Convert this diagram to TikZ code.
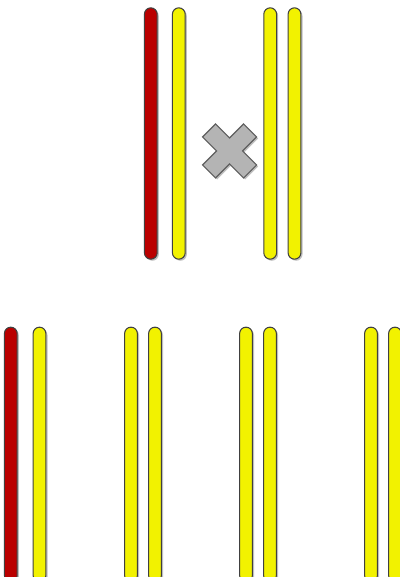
\documentclass[tikz,border=0pt]{standalone}
\usetikzlibrary{shadows}
\definecolor{barred}{HTML}{BA0000}
\definecolor{baryel}{HTML}{F2F200}
\definecolor{barline}{HTML}{404040}
\definecolor{crossfill}{HTML}{B4B4B4}
\definecolor{crossline}{HTML}{5E5E5E}
\tikzset{
  bar/.style={draw=barline, line width=0.8pt, rectangle, rounded corners=4.8pt,
    inner sep=0pt, minimum width=9.6pt,
    drop shadow={shadow xshift=1.2pt, shadow yshift=-1.2pt, opacity=0.25, fill=black}},
  redbar/.style={bar, fill=barred},
  yelbar/.style={bar, fill=baryel},
  topbar/.style={minimum height=188.5pt},
  lowbar/.style={minimum height=191pt},
}
\begin{document}
\begin{tikzpicture}[x=0.75pt,y=-0.75pt]
\useasboundingbox (0,0) rectangle (399,577);
% top group
\node[redbar,topbar] (t1) at (150.8,133.5) {};
\node[yelbar,topbar] (t2) at (178.8,133.5) {};
\node[yelbar,topbar] (t3) at (270.2,133.5) {};
\node[yelbar,topbar] (t4) at (294.5,133.5) {};
% cross
\draw[draw=crossline, fill=crossfill, line width=0.8pt,
  drop shadow={shadow xshift=1.2pt, shadow yshift=-1.2pt, opacity=0.25, fill=black}]
  (229.5,151) ++(0,-13) -- ++(14,-14) -- ++(13,13) -- ++(-14,14)
  -- ++(14,14) -- ++(-13,13) -- ++(-14,-14) -- ++(-14,14) -- ++(-13,-13)
  -- ++(14,-14) -- ++(-14,-14) -- ++(13,-13) -- cycle;
% bottom group
\node[redbar,lowbar] (b1) at (10.8,454.5) {};
\node[yelbar,lowbar] (b2) at (39.5,454.5) {};
\node[yelbar,lowbar] (b3) at (131,454.5) {};
\node[yelbar,lowbar] (b4) at (155,454.5) {};
\node[yelbar,lowbar] (b5) at (246,454.5) {};
\node[yelbar,lowbar] (b6) at (270,454.5) {};
\node[yelbar,lowbar] (b7) at (371,454.5) {};
\node[yelbar,lowbar] (b8) at (395,454.5) {};
\end{tikzpicture}
\end{document}
